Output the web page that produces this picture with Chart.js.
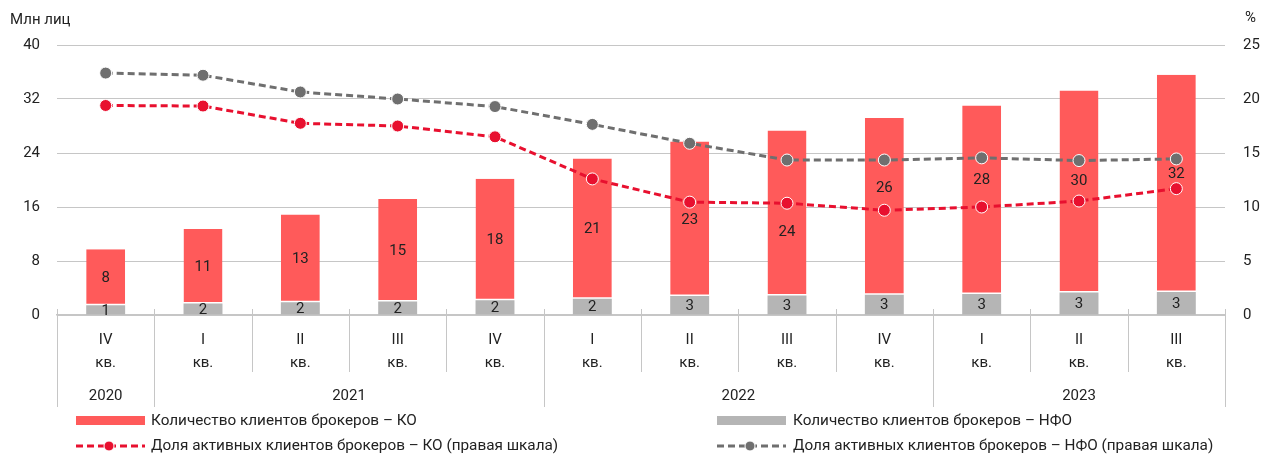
<!DOCTYPE html>
<html>
<head>
<meta charset="utf-8">
<script src="https://cdn.jsdelivr.net/npm/chart.js@4.4.1/dist/chart.umd.min.js"></script>
<style>
  html, body { margin: 0; padding: 0; background: #fff; }
</style>
</head>
<body>
<canvas id="myChart" width="1263" height="461"></canvas>
<script>
// Chart data
var quarters = [['IV', 'кв.'], ['I', 'кв.'], ['II', 'кв.'], ['III', 'кв.'], ['IV', 'кв.'],
                ['I', 'кв.'], ['II', 'кв.'], ['III', 'кв.'], ['IV', 'кв.'],
                ['I', 'кв.'], ['II', 'кв.'], ['III', 'кв.']];
var years = ['2020', '2021', '2022', '2023'];
var yearSpans = [1, 4, 4, 3]; // quarters per year

var clientsKO = [8.3, 11.05, 13.0, 15.2, 18.0, 20.8, 22.9, 24.45, 26.2, 27.95, 29.9, 32.2];
var clientsNFO = [1.45, 1.7, 1.9, 2.0, 2.2, 2.4, 2.8, 2.9, 3.0, 3.1, 3.35, 3.4];
var activeKO = [19.4, 19.35, 17.75, 17.5, 16.5, 12.6, 10.45, 10.35, 9.7, 10.0, 10.55, 11.7];
var activeNFO = [22.4, 22.2, 20.65, 20.0, 19.3, 17.65, 15.9, 14.35, 14.35, 14.55, 14.3, 14.45];

var legendNames = ['Количество клиентов брокеров – КО', 'Количество клиентов брокеров – НФО',
                   'Доля активных клиентов брокеров – КО (правая шкала)',
                   'Доля активных клиентов брокеров – НФО (правая шкала)'];

var RED_BAR = '#ff5a5a';
var GREY_BAR = '#b5b5b5';
var RED_LINE = '#e8102f';
var GREY_LINE = '#6f6f6f';
var TEXT = '#222222';
var FONT = 'Roboto';

// nudges so the bar labels don't sit under the lines (px, down is +)
var koLabelShift = [0, 0, 0, 0, 0, 0, 0, 18, -19, -20, -11, -10];

var decor = {
    id: 'decor',
    afterDatasetsDraw: function (chart) {
        var ctx = chart.ctx;
        ctx.save();
        ctx.font = '15px ' + FONT;
        ctx.fillStyle = TEXT;
        ctx.textAlign = 'center';
        ctx.textBaseline = 'middle';
        // value labels inside the bars
        [0, 1].forEach(function (di) {
            var meta = chart.getDatasetMeta(di);
            var vals = chart.data.datasets[di].data;
            meta.data.forEach(function (bar, i) {
                var y = (bar.y + bar.base) / 2 + 1;
                if (di === 1) y += koLabelShift[i];
                ctx.fillText(Math.round(vals[i]), bar.x, y);
            });
        });
        ctx.restore();
    },
    afterDraw: function (chart) {
        var ctx = chart.ctx;
        var area = chart.chartArea;
        var w = (area.right - area.left) / quarters.length;
        ctx.save();

        // separators under the x axis
        var yearEdges = [0];
        yearSpans.forEach(function (s) { yearEdges.push(yearEdges[yearEdges.length - 1] + s); });
        ctx.strokeStyle = '#c6c6c6';
        ctx.lineWidth = 1;
        for (var i = 0; i <= quarters.length; i++) {
            var x = Math.round(area.left + i * w) + 0.5;
            var long = yearEdges.indexOf(i) >= 0;
            ctx.beginPath();
            ctx.moveTo(x, area.bottom - 6);
            ctx.lineTo(x, long ? 407 : 372);
            ctx.stroke();
        }

        ctx.font = '15px ' + FONT;
        ctx.fillStyle = TEXT;
        ctx.textBaseline = 'middle';
        ctx.textAlign = 'center';
        for (var k = 0; k < years.length; k++) {
            var cx = area.left + (yearEdges[k] + yearEdges[k + 1]) / 2 * w;
            ctx.fillText(years[k], cx, 396);
        }

        // axis titles
        ctx.textAlign = 'left';
        ctx.fillText('Млн лиц', 10, 20);
        ctx.fillText('%', 1245, 18);

        // legend
        var cols = [76, 717];
        var rows = [421, 446];
        ctx.fillStyle = RED_BAR;
        ctx.fillRect(cols[0], 416, 69, 9);
        ctx.fillStyle = GREY_BAR;
        ctx.fillRect(cols[1], 416, 69, 9);

        [[RED_LINE, cols[0]], [GREY_LINE, cols[1]]].forEach(function (l) {
            ctx.strokeStyle = l[0];
            ctx.lineWidth = 3;
            ctx.setLineDash([7, 4]);
            ctx.beginPath();
            ctx.moveTo(l[1], rows[1]);
            ctx.lineTo(l[1] + 69, rows[1]);
            ctx.stroke();
            ctx.setLineDash([]);
            ctx.beginPath();
            ctx.arc(l[1] + 33, rows[1], 5, 0, Math.PI * 2);
            ctx.fillStyle = l[0];
            ctx.fill();
            ctx.lineWidth = 1;
            ctx.strokeStyle = '#fff';
            ctx.stroke();
        });

        ctx.font = '15.3px ' + FONT;
        ctx.fillStyle = TEXT;
        ctx.textAlign = 'left';
        ctx.fillText(legendNames[0], cols[0] + 75, rows[0]);
        ctx.fillText(legendNames[1], cols[1] + 76, rows[0]);
        ctx.fillText(legendNames[2], cols[0] + 75, rows[1]);
        ctx.fillText(legendNames[3], cols[1] + 76, rows[1]);
        ctx.restore();
    }
};

var ctx1 = document.getElementById('myChart').getContext('2d');
var myChart = new Chart(ctx1, {
    type: 'bar',
    data: {
        labels: quarters,
        datasets: [
            {
                label: legendNames[1],
                data: clientsNFO,
                backgroundColor: GREY_BAR,
                borderColor: '#ffffff',
                borderWidth: 0,
                barPercentage: 0.4,
                categoryPercentage: 1,
                yAxisID: 'y',
                order: 2
            },
            {
                label: legendNames[0],
                data: clientsKO,
                backgroundColor: RED_BAR,
                borderColor: '#ffffff',
                borderWidth: { top: 0, left: 0, right: 0, bottom: 1.5 },
                borderSkipped: false,
                barPercentage: 0.4,
                categoryPercentage: 1,
                yAxisID: 'y',
                order: 2
            },
            {
                type: 'line',
                label: legendNames[3],
                data: activeNFO,
                borderColor: GREY_LINE,
                backgroundColor: GREY_LINE,
                borderWidth: 3,
                borderDash: [7, 4],
                pointRadius: 6,
                pointBorderColor: '#ffffff',
                pointBorderWidth: 1,
                pointBackgroundColor: GREY_LINE,
                tension: 0,
                fill: false,
                yAxisID: 'y1',
                order: 1
            },
            {
                type: 'line',
                label: legendNames[2],
                data: activeKO,
                borderColor: RED_LINE,
                backgroundColor: RED_LINE,
                borderWidth: 3,
                borderDash: [7, 4],
                pointRadius: 6,
                pointBorderColor: '#ffffff',
                pointBorderWidth: 1,
                pointBackgroundColor: RED_LINE,
                tension: 0,
                fill: false,
                yAxisID: 'y1',
                order: 0
            }
        ]
    },
    options: {
        responsive: false,
        devicePixelRatio: 1,
        animation: false,
        layout: { padding: { top: 45, left: 0, right: 0, bottom: 0 } },
        plugins: {
            legend: { display: false },
            tooltip: { enabled: false }
        },
        scales: {
            x: {
                stacked: true,
                offset: true,
                grid: { display: false, drawTicks: false },
                border: { display: true, color: '#c6c6c6', width: 1.5 },
                ticks: {
                    color: TEXT,
                    padding: 14,
                    maxRotation: 0,
                    autoSkip: false,
                    font: { family: FONT, size: 15, lineHeight: 1.5 }
                },
                afterFit: function (s) { s.height = 146; }
            },
            y: {
                stacked: true,
                position: 'left',
                min: 0,
                max: 40,
                ticks: {
                    stepSize: 8,
                    color: TEXT,
                    padding: 17,
                    font: { family: FONT, size: 15 }
                },
                grid: { color: '#c6c6c6', drawTicks: false },
                border: { display: false },
                afterFit: function (s) { s.width = 57; }
            },
            y1: {
                position: 'right',
                min: 0,
                max: 25,
                ticks: {
                    stepSize: 5,
                    color: TEXT,
                    padding: 18,
                    font: { family: FONT, size: 15 }
                },
                grid: { drawOnChartArea: false, drawTicks: false },
                border: { display: false },
                afterFit: function (s) { s.width = 38; }
            }
        }
    },
    plugins: [decor]
});
</script>
</body>
</html>
